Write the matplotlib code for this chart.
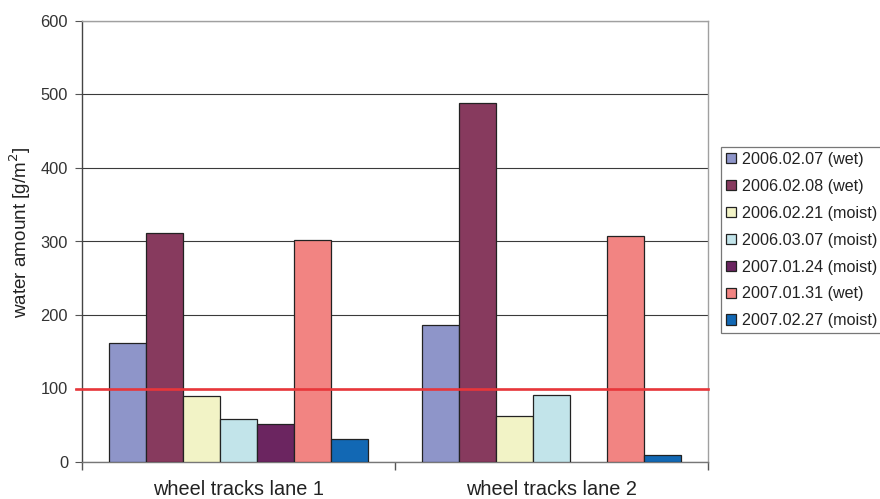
# water amount on wheel tracks, grouped bar chart
import numpy as np
import matplotlib.pyplot as plt

plt.rcParams['font.family'] = ['Liberation Sans', 'DejaVu Sans']

# data
categories = ["wheel tracks lane 1", "wheel tracks lane 2"]
series_labels = ["2006.02.07 (wet)", "2006.02.08 (wet)", "2006.02.21 (moist)",
                 "2006.03.07 (moist)", "2007.01.24 (moist)", "2007.01.31 (wet)",
                 "2007.02.27 (moist)"]
lane1 = [162, 312, 90, 59, 52, 302, 31]
lane2 = [186, 488, 63, 91, np.nan, 308, 10]
limit_value = 100

colors = ["#8E95C9", "#873A5E", "#F2F3C6", "#C2E4EA", "#6B2560", "#F28482",
          "#1268B4"]

# make the figure
fig = plt.figure(figsize=(8.8, 4.99), dpi=100)
ax = fig.add_axes([82 / 880, 37 / 499, 626 / 880, 441 / 499])

x_pos = np.arange(len(categories))
width = 0.118
n = len(series_labels)
for i in range(n):
    vals = [lane1[i], lane2[i]]
    ax.bar(x_pos + (i - (n - 1) / 2) * width, vals, width=width,
           color=colors[i], edgecolor="#222222", linewidth=0.9,
           label=series_labels[i], zorder=3)

# limit line at 100
ax.plot([-0.01, 1], [limit_value, limit_value], color="#E8363A", lw=1.9,
        transform=ax.get_yaxis_transform(), clip_on=False, zorder=4)

# axes styling
ax.set_xlim(-0.5, 1.5)
ax.set_ylim(0, 600)
ax.set_yticks(range(0, 601, 100))
ax.yaxis.grid(True, color="#3a3a3a", linewidth=0.8, zorder=0)
ax.set_axisbelow(True)

ax.set_xticks([-0.5, 0.5, 1.5])
ax.set_xticklabels([])
ax.set_xticks(x_pos, minor=True)
ax.set_xticklabels(categories, minor=True, fontsize=14.3, color="#222222")
ax.tick_params(axis="x", which="minor", length=0, pad=13)
ax.tick_params(axis="x", which="major", length=6, color="#555555",
               width=1)
ax.tick_params(axis="y", length=5, color="#555555", labelsize=11.8,
               labelcolor="#333333", pad=5)

ax.spines["left"].set_color("#444444")
ax.spines["bottom"].set_color("#777777")
ax.spines["top"].set_color("#A0A0A0")
ax.spines["right"].set_color("#A0A0A0")
for s in ax.spines.values():
    s.set_linewidth(1)

ax.set_ylabel("water amount [g/m$^2$]", fontsize=13.6, color="#222222")
ax.yaxis.set_label_coords(-49 / 626, 0.52)

# legend outside on the right
leg = ax.legend(loc="upper left", bbox_to_anchor=(721 / 880, 1 - 147 / 499),
                bbox_transform=fig.transFigure, fontsize=11.6, frameon=True,
                fancybox=False, edgecolor="#555555", handlelength=0.62,
                handleheight=0.62, handletextpad=0.4, labelspacing=0.74,
                borderpad=0.3, borderaxespad=0)
leg.get_frame().set_linewidth(0.9)
for t in leg.get_texts():
    t.set_color("#222222")

fig.savefig("out.png", dpi=100)
